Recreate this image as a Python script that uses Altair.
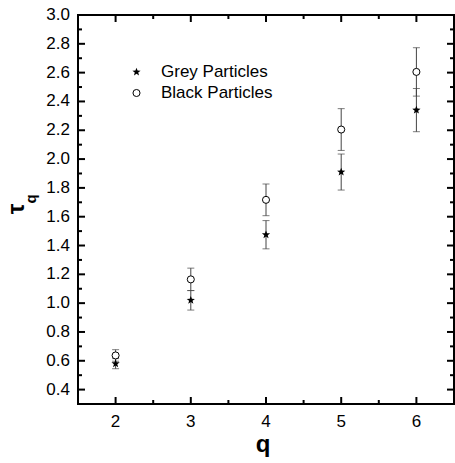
import math
import altair as alt
import pandas as pd

q = [2, 3, 4, 5, 6]
grey_tau = [0.58, 1.02, 1.475, 1.91, 2.34]
grey_err = [0.035, 0.068, 0.098, 0.125, 0.15]
black_tau = [0.637, 1.165, 1.717, 2.205, 2.605]
black_err = [0.04, 0.078, 0.11, 0.145, 0.168]
series_names = ["Grey Particles", "Black Particles"]

x_limits = [1.5, 6.5]
y_limits = [0.3, 3.0]
x_major = [2, 3, 4, 5, 6]
x_minor = [2.5, 3.5, 4.5, 5.5]
y_labels = [0.4, 0.6, 0.8, 1.0, 1.2, 1.4, 1.6, 1.8, 2.0, 2.2, 2.4, 2.6, 2.8, 3.0]
y_major = [0.4, 0.6, 0.8, 1.0, 1.2, 1.4, 1.6, 1.8, 2.0, 2.2, 2.4, 2.6, 2.8]
y_minor = [0.5, 0.7, 0.9, 1.1, 1.3, 1.5, 1.7, 1.9, 2.1, 2.3, 2.5, 2.7, 2.9]
x_title = "q"
y_title = "τ"
y_title_sub = "q"

# whole canvas is the view; the framed plot box sits inside it
CW, CH = 455, 463
LEFT, RIGHT, TOP, BOTTOM = 78, 454, 15, 404
FONT = "Liberation Sans"

pxx = (RIGHT - LEFT) / (x_limits[1] - x_limits[0])
pxy = (BOTTOM - TOP) / (y_limits[1] - y_limits[0])
xs = alt.Scale(domain=[x_limits[0] - LEFT / pxx, x_limits[1] + (CW - RIGHT) / pxx],
               nice=False, zero=False)
ys = alt.Scale(domain=[y_limits[0] - (CH - BOTTOM) / pxy, y_limits[1] + TOP / pxy],
               nice=False, zero=False)


def X(f):
    return alt.X(f, scale=xs, axis=None)


def Y(f):
    return alt.Y(f, scale=ys, axis=None)


rows = []
for name, vals, errs in [(series_names[0], grey_tau, grey_err),
                         (series_names[1], black_tau, black_err)]:
    for qi, v, e in zip(q, vals, errs):
        rows.append({"q": qi, "tau": v, "lo": v - e, "hi": v + e, "series": name})
df = pd.DataFrame(rows)

# five-pointed star symbol
pts = []
for k in range(10):
    r = 1.0 if k % 2 == 0 else 0.42
    a = math.radians(-90 + 36 * k)
    pts.append(f"{r*math.cos(a):.3f},{r*math.sin(a):.3f}")
star = "M" + "L".join(pts) + "Z"

base = alt.Chart(df)
grey = base.transform_filter(alt.datum.series == series_names[0])
black = base.transform_filter(alt.datum.series == series_names[1])
ebc = "#444"

bars = base.mark_rule(color=ebc, strokeWidth=1).encode(x=X("q:Q"), y=Y("lo:Q"), y2="hi:Q")
cap_lo = base.mark_tick(color=ebc, orient="horizontal", size=7, thickness=1).encode(
    x=X("q:Q"), y=Y("lo:Q"))
cap_hi = base.mark_tick(color=ebc, orient="horizontal", size=7, thickness=1).encode(
    x=X("q:Q"), y=Y("hi:Q"))
pts_grey = grey.mark_point(shape=star, filled=True, color="black", opacity=1, size=75).encode(
    x=X("q:Q"), y=Y("tau:Q"))
pts_black = black.mark_point(shape="circle", filled=True, fill="white", stroke="black",
                             strokeWidth=1, opacity=1, size=50).encode(x=X("q:Q"), y=Y("tau:Q"))

# frame
frame_v = alt.Chart(pd.DataFrame({"x": x_limits, "y1": [y_limits[0]] * 2,
                                  "y2": [y_limits[1]] * 2})).mark_rule(
    color="black", strokeWidth=2, strokeCap="square").encode(x=X("x:Q"), y=Y("y1:Q"), y2="y2:Q")
frame_h = alt.Chart(pd.DataFrame({"y": y_limits, "x1": [x_limits[0]] * 2,
                                  "x2": [x_limits[1]] * 2})).mark_rule(
    color="black", strokeWidth=2, strokeCap="square").encode(y=Y("y:Q"), x=X("x1:Q"), x2="x2:Q")


# inward ticks on all four sides
def xticks(vals, size):
    d = pd.DataFrame({"xt": vals, "yb": y_limits[0], "ytop": y_limits[1]})
    m = dict(color="black", thickness=2, size=size, opacity=1, orient="vertical")
    return [
        alt.Chart(d).mark_tick(yOffset=-size / 2, **m).encode(x=X("xt:Q"), y=Y("yb:Q")),
        alt.Chart(d).mark_tick(yOffset=size / 2, **m).encode(x=X("xt:Q"), y=Y("ytop:Q")),
    ]


def yticks(vals, size):
    d = pd.DataFrame({"yv": vals, "xl": x_limits[0], "xr": x_limits[1]})
    m = dict(color="black", thickness=2, size=size, opacity=1, orient="horizontal")
    return [
        alt.Chart(d).mark_tick(xOffset=size / 2, **m).encode(y=Y("yv:Q"), x=X("xl:Q")),
        alt.Chart(d).mark_tick(xOffset=-size / 2, **m).encode(y=Y("yv:Q"), x=X("xr:Q")),
    ]


tick_layers = xticks(x_major, 7) + xticks(x_minor, 4) + yticks(y_major, 7) + yticks(y_minor, 4)

# tick labels
xlab = alt.Chart(pd.DataFrame({"xt": x_major})).mark_text(
    font=FONT, fontSize=17, color="black", align="center", baseline="middle").encode(
    x=X("xt:Q"), y=alt.value(422), text=alt.Text("xt:Q", format="d"))
ylab = alt.Chart(pd.DataFrame({"yv": y_labels})).mark_text(
    font=FONT, fontSize=17, color="black", align="right", baseline="middle").encode(
    y=Y("yv:Q"), x=alt.value(70), text=alt.Text("yv:Q", format=".1f"))

# axis titles
xt = alt.Chart(pd.DataFrame({"s": [x_title]})).mark_text(
    font=FONT, fontSize=24, fontWeight="bold", color="black", align="center",
    baseline="alphabetic").encode(text="s:N", x=alt.value(263), y=alt.value(452))
yt = alt.Chart(pd.DataFrame({"s": [y_title]})).mark_text(
    font=FONT, fontSize=24, fontWeight="bold", color="black", angle=270, align="center",
    baseline="middle").encode(text="s:N", x=alt.value(17), y=alt.value(209))
ysub = alt.Chart(pd.DataFrame({"s": [y_title_sub]})).mark_text(
    font=FONT, fontSize=15, fontWeight="bold", color="black", angle=270, align="center",
    baseline="middle").encode(text="s:N", x=alt.value(31), y=alt.value(199))

# legend
leg_df = pd.DataFrame({"label": series_names})
leg_star = alt.Chart(leg_df).transform_filter(alt.datum.label == series_names[0]).mark_point(
    shape=star, filled=True, color="black", opacity=1, size=75
).encode(x=alt.value(136.5), y=alt.value(72))
leg_circ = alt.Chart(leg_df).transform_filter(alt.datum.label == series_names[1]).mark_point(
    shape="circle", filled=True, fill="white", stroke="black", strokeWidth=1, opacity=1, size=50
).encode(x=alt.value(136.5), y=alt.value(93))
leg_t1 = alt.Chart(leg_df).transform_filter(alt.datum.label == series_names[0]).mark_text(
    align="left", baseline="middle", font=FONT, fontSize=17, color="black"
).encode(text="label:N", x=alt.value(161), y=alt.value(72))
leg_t2 = alt.Chart(leg_df).transform_filter(alt.datum.label == series_names[1]).mark_text(
    align="left", baseline="middle", font=FONT, fontSize=17, color="black"
).encode(text="label:N", x=alt.value(161), y=alt.value(93))

chart = alt.layer(bars, cap_lo, cap_hi, pts_grey, pts_black, frame_v, frame_h, *tick_layers,
                  xlab, ylab, xt, yt, ysub,
                  leg_star, leg_circ, leg_t1, leg_t2).properties(
    width=CW, height=CH,
    autosize=alt.AutoSizeParams(type="none"),
    padding=0,
    background="white",
).configure_view(strokeWidth=0)

chart.save("out.html", embed_options={"renderer": "svg", "actions": False})
